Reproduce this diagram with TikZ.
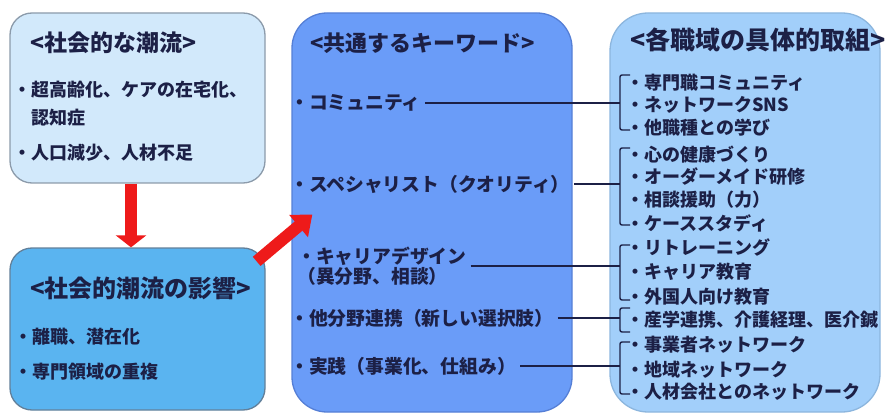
\documentclass[tikz,border=0pt]{standalone}
\usepackage{fontspec}
\setmainfont{Noto Sans CJK JP}
\usetikzlibrary{arrows.meta}
\definecolor{ink}{HTML}{1C2046}
\definecolor{trendfill}{HTML}{D2E9FB}
\definecolor{trenddraw}{HTML}{8C9BAB}
\definecolor{impactfill}{HTML}{5AB4F0}
\definecolor{impactdraw}{HTML}{62809A}
\definecolor{keyfill}{HTML}{6A9CF8}
\definecolor{keydraw}{HTML}{557FD6}
\definecolor{actfill}{HTML}{A2CFFA}
\definecolor{actdraw}{HTML}{8CB6DE}
\definecolor{flow}{HTML}{EE1A1A}
\tikzset{%
        every node/.style = {text = ink, inner sep = 0pt},
        box/.style = {draw, line width = 1.3pt, rounded corners = 22pt},
        title/.style = {anchor = west, font = \fontsize{#1}{#1}\selectfont\bfseries},
        item/.style = {anchor = west, align = left, font = \fontsize{18}{28}\selectfont\bfseries},
        link/.style = {draw = ink, line width = 1.4pt},
        brace/.style = {draw = ink, line width = 1.4pt, rounded corners = 2pt}
}
\tikzstyle{keyword}=[
    anchor = west,
    align = left,
    inner xsep = 4pt,
    font = \fontsize{18.8}{19.5}\selectfont\bfseries
]
\tikzstyle{redarrow}=[
    draw = flow,
    line width = 12pt,
    -{Triangle[width = 30pt, length = 12pt]}
]
\begin{document}
\begin{tikzpicture}[x=1pt, y=-1pt]
    \useasboundingbox (0,0) rectangle (886,414);
    \node[box, fill = trendfill, draw = trenddraw, minimum width = 255pt, minimum height = 170pt] (trend) at (137.5,98) {};
    \node[box, fill = impactfill, draw = impactdraw, minimum width = 255pt, minimum height = 162pt] (impact) at (137.5,329) {};
    \node[box, fill = keyfill, draw = keydraw, rounded corners = 35pt, minimum width = 280pt, minimum height = 399pt] (keys) at (432,212.5) {};
    \node[box, fill = actfill, draw = actdraw, rounded corners = 38pt, minimum width = 270pt, minimum height = 399pt] (acts) at (745,212.5) {};

    \node[title = 23] (trendtitle) at (30,43) {<社会的な潮流>};
    \node[item] (trend1) at (13,104) {・超高齢化、ケアの在宅化、\\\hspace*{1em}認知症};
    \node[item] (trend2) at (13,153) {・人口減少、人材不足};

    \node[title = 24] (impacttitle) at (30,288) {<社会的潮流の影響>};
    \node[item] (impact1) at (14,337) {・離職、潜在化};
    \node[item] (impact2) at (14,372) {・専門領域の重複};

    \node[title = 22] (keystitle) at (310,43) {<共通するキーワード>};
    \node[keyword] (kw1) at (286,103) {・コミュニティ};
    \node[keyword] (kw2) at (286,184) {・スペシャリスト（クオリティ）};
    \node[keyword] (kw3) at (293,266) {・キャリアデザイン\\（異分野、相談）};
    \node[keyword] (kw4) at (286,318) {・他分野連携（新しい選択肢）};
    \node[keyword] (kw5) at (286,366) {・実践（事業化、仕組み）};

    \node[title = 25] (actstitle) at (630,40) {<各職域の具体的取組>};
    \foreach \t/\y [count=\i] in {専門職コミュニティ/83, ネットワークSNS/105, 他職種との学び/128,
            心の健康づくり/155, オーダーメイド研修/177, 相談援助（力）/200, ケーススタディ/223,
            リトレーニング/247, キャリア教育/272, 外国人向け教育/297, 産学連携、介護経理、医介鍼/320,
            事業者ネットワーク/345, 地域ネットワーク/370, 人材会社とのネットワーク/392}
        \node[item, font = \fontsize{18}{19}\selectfont\bfseries] (act\i) at (626,\y) {・\t};

    \coordinate (bx) at (620,0);
    \draw[brace] (630,75) -- (620,75) -- (620,130) -- (630,130);
    \draw[brace] (630,148) -- (620,148) -- (620,225) -- (630,225);
    \draw[brace] (630,245) -- (620,245) -- (620,300) -- (630,300);
    \draw[brace] (630,308) -- (620,308) -- (620,332) -- (630,332);
    \draw[brace] (630,342) -- (620,342) -- (620,394) -- (630,394);
    \foreach \k in {kw1,kw2,kw3,kw4,kw5}
        \draw[link] (\k.east) -- (\k.east -| bx);

    \draw[redarrow] ([xshift=-6.5pt]trend.south) -- ([xshift=-6.5pt]impact.north);
    \draw[redarrow, -{Triangle[width = 28pt, length = 18pt]}] ([xshift=-9pt,yshift=-14pt]impact.north east) -- ([xshift=21pt,yshift=-2pt]keys.west);
\end{tikzpicture}
\end{document}
